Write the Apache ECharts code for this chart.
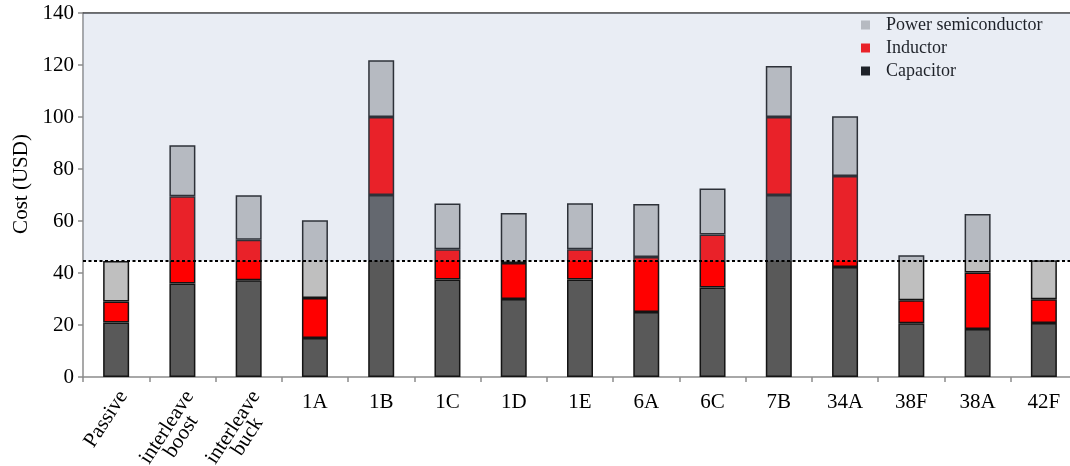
<!DOCTYPE html>
<html>
<head>
<meta charset="utf-8">
<script src="https://cdn.jsdelivr.net/npm/echarts@6/dist/echarts.min.js"></script>
<style>
html,body{margin:0;padding:0;background:#fff;}
#c{width:1070px;height:466px;}
</style>
</head>
<body>
<div id="c"></div>
<script>
const categories = ['Passive', 'interleave\nboost', 'interleave\nbuck', '1A', '1B', '1C', '1D', '1E', '6A', '6C', '7B', '34A', '38F', '38A', '42F'];
const rotatedCount = 3;
const capacitor = [21, 36, 37.2, 15, 70, 37.5, 30, 37.5, 25, 34.4, 70, 42.3, 20.7, 18.5, 20.8];
const inductor  = [8, 33.5, 15.6, 15.4, 30, 11.6, 13.8, 11.6, 21.2, 20.4, 30, 35, 8.8, 21.7, 9.1];
const power     = [15.6, 19.6, 17.1, 29.9, 21.8, 17.6, 19.3, 17.7, 20.3, 17.7, 19.6, 23, 17.3, 22.5, 15];
const threshold = 44.6;
const yMin = 0, yMax = 140, yStep = 20;
const seriesNames = ['Capacitor', 'Inductor', 'Power semiconductor'];

const font = 'Liberation Serif';
const chart = echarts.init(document.getElementById('c'));
const barBase = {
  type: 'bar', stack: 'cost', barWidth: 26,
  xAxisIndex: 0, yAxisIndex: 0
};
const border = {borderColor: '#141414', borderWidth: 1.5};
const axisGray = '#8c8c8c';

chart.setOption({
  animation: false,
  backgroundColor: '#fff',
  grid: {left: 83, top: 13, width: 994, height: 364, containLabel: false, outerBoundsMode: 'none'},
  legend: {
    orient: 'vertical', left: 861, top: 16, padding: 0,
    itemWidth: 9, itemHeight: 9, itemGap: 5, icon: 'rect',
    itemStyle: {borderWidth: 0},
    textStyle: {fontFamily: font, fontSize: 18, color: '#000', lineHeight: 18, padding: [0, 0, 0, 11]},
    data: [
      {name: seriesNames[2], itemStyle: {color: '#bfbfbf'}},
      {name: seriesNames[1], itemStyle: {color: '#ff0000'}},
      {name: seriesNames[0], itemStyle: {color: '#000000'}}
    ]
  },
  xAxis: [
    {
      type: 'category', data: categories, position: 'bottom', boundaryGap: true,
      axisLine: {lineStyle: {color: axisGray, width: 1.5}},
      axisTick: {show: true, length: 5, lineStyle: {color: axisGray, width: 1.5}},
      axisLabel: {
        interval: 0, margin: 15, fontFamily: font, fontSize: 21, color: '#000',
        formatter: (v, i) => i >= rotatedCount ? v : ''
      },
      splitLine: {show: false}
    },
    {
      type: 'category', data: categories, position: 'bottom', boundaryGap: true,
      axisLine: {show: false}, axisTick: {show: false},
      axisLabel: {
        interval: 0, margin: 11, rotate: 57, align: 'right', verticalAlign: 'top',
        fontFamily: font, fontSize: 21, color: '#000', lineHeight: 17,
        formatter: (v, i) => i < rotatedCount ? v.split('\n').map(s => '{c|' + s + '}').join('\n') : '',
        rich: {c: {align: 'center', fontFamily: font, fontSize: 21, color: '#000', lineHeight: 17}}
      },
      splitLine: {show: false}
    },
    {
      type: 'category', data: categories, position: 'top', boundaryGap: true,
      axisLine: {lineStyle: {color: '#3a3a3a', width: 1.5}},
      axisTick: {show: false}, axisLabel: {show: false}, splitLine: {show: false}
    }
  ],
  yAxis: {
    type: 'value', min: yMin, max: yMax, interval: yStep,
    name: 'Cost (USD)', nameLocation: 'middle', nameGap: 51,
    nameTextStyle: {fontFamily: font, fontSize: 21, color: '#000', padding: [0, 0, 0, 22]},
    axisLine: {show: true, lineStyle: {color: axisGray, width: 1.5}},
    axisTick: {show: true, length: 5, lineStyle: {color: axisGray, width: 1.5}},
    axisLabel: {margin: 9, fontFamily: font, fontSize: 21, color: '#000'},
    splitLine: {show: false}
  },
  series: [
    Object.assign({}, barBase, {
      name: seriesNames[0], data: capacitor,
      itemStyle: Object.assign({color: '#595959'}, border)
    }),
    Object.assign({}, barBase, {
      name: seriesNames[1], data: inductor,
      itemStyle: Object.assign({color: '#ff0000'}, border)
    }),
    Object.assign({}, barBase, {
      name: seriesNames[2], data: power,
      itemStyle: Object.assign({color: '#bfbfbf'}, border),
      markArea: {
        z: 10, silent: true,
        itemStyle: {color: 'rgba(147,167,201,0.205)', borderWidth: 0},
        data: [[{yAxis: threshold}, {yAxis: yMax}]]
      },
      markLine: {
        z: 11, silent: true, symbol: 'none',
        label: {show: false},
        lineStyle: {color: '#000', type: [3, 2.5], width: 1.8},
        data: [{yAxis: threshold}]
      }
    })
  ]
});
</script>
</body>
</html>
